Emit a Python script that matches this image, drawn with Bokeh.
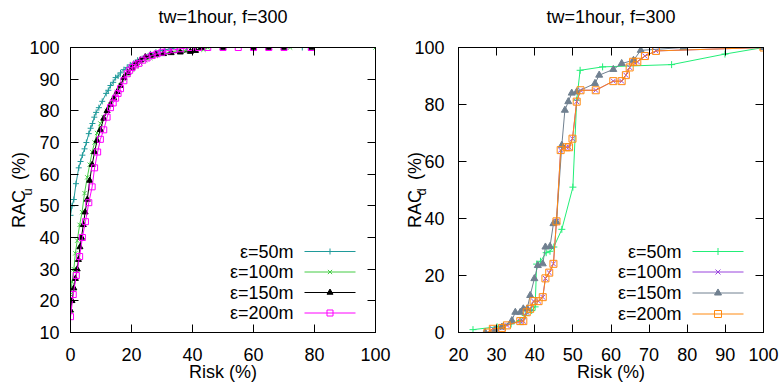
from bokeh.plotting import figure
from bokeh.models import Range1d, LinearAxis, FixedTicker
from bokeh.layouts import row
from bokeh.core.properties import value
from bokeh.embed import file_html
from bokeh.resources import INLINE

FONT = "Liberation Sans"

# ---------------- texts ----------------
title_text = "tw=1hour, f=300"
x_label_text = "Risk (%)"
y_main_text = "RAC\u00a0\u00a0(%)"     # gap left for the subscript
left_sub = "u\u00a0"
right_sub = "d\u00a0"
series_labels = ["ε=50m", "ε=100m", "ε=150m", "ε=200m"]

# ---------------- data: left panel (RAC_u vs Risk) ----------------
u50_x = [0, 0.5, 1.1, 1.8, 2.7, 3.3, 3.9, 4.6, 5.2, 6, 6.6, 7.2, 7.8, 8.4, 9.3, 10.4, 11.7, 12.4, 13.1, 14, 14.8,
         15.6, 16.4, 17.5, 18.6, 19.6, 20.7, 22, 23.5, 25, 26.2, 28, 29.5, 31, 33, 35, 38, 42, 50, 60, 65, 70, 76, 78]
u50_y = [47, 50, 52, 57, 62, 64, 66, 68, 70, 72.8, 74.5, 76, 78, 79.5, 81, 83, 85.5, 86.5, 88, 89, 90.5,
         91, 92, 93, 93.7, 94.5, 95, 96, 96.5, 97, 98, 98.5, 99, 99.3, 99.6, 100, 100, 100, 100, 100, 100, 100, 100, 100]

u100_x = [0, 0.5, 1.1, 1.6, 2.2, 3, 3.8, 4.6, 5.5, 6.3, 7.1, 7.9, 8.7, 9.8, 10.9, 12, 13.1, 14.2, 15.3, 16.4, 17.5,
          18.8, 20.2, 21.5, 22.9, 24.5, 26.2, 28, 30.5, 32.5, 34.9, 38, 41, 43.6, 45, 50, 60, 65, 70, 72, 100]
u100_y = [22, 26, 30, 35, 39, 44, 48, 54, 59, 63, 67, 70, 73, 76, 78, 80, 82, 84, 86, 88, 90,
          91.5, 93, 94, 95, 96, 96.7, 97.3, 98, 98.5, 99, 99, 99, 99.3, 100, 100, 100, 100, 100, 100, 100]

u150_x = [0, 0.5, 1.1, 1.6, 2.2, 2.6, 3.1, 3.6, 4.2, 4.8, 5.5, 6.3, 7.1, 7.9, 8.7, 9.8, 10.9, 12, 13.1, 14.2, 15.3,
          16.4, 17.5, 18.8, 20.2, 21.5, 22.9, 24.5, 26.2, 28, 30.5, 33, 36, 39.3, 41, 43, 50, 60, 65, 70, 79]
u150_y = [17, 20, 24, 27, 30, 33, 37, 40, 44, 48, 52, 58, 63, 67, 70.6, 74, 77.6, 80, 82, 84, 86,
          88, 90.5, 92, 93.7, 95, 96, 97, 97.5, 97.8, 98, 98.3, 98.5, 98.7, 99, 100, 100, 100, 100, 100, 100]

u200_x = [0, 0.9, 1.9, 3, 3.9, 4.9, 6, 7.1, 7.9, 8.9, 9.8, 10.9, 12, 13.1, 14, 14.8, 15.6, 16.4, 17.5, 18.6, 19.4,
          20.2, 21.3, 22.4, 23.7, 25.1, 26.8, 28.4, 30, 31.7, 34, 36, 39.3, 42, 45, 50, 55, 60, 65, 70, 79]
u200_y = [15, 22, 28, 34, 40, 45, 51, 56, 62, 67, 71, 74, 78, 81, 82.5, 84, 85.5, 87, 89.5, 91.7, 92.8,
          93.7, 94.5, 95, 96, 96.7, 97.5, 98, 98.5, 99, 99.3, 99.6, 100, 100, 100, 100, 100, 100, 100, 100, 100]

left_xticks = [0, 20, 40, 60, 80, 100]
left_yticks = [10, 20, 30, 40, 50, 60, 70, 80, 90, 100]

# ---------------- data: right panel (RAC_d vs Risk) ----------------
d50_x = [23.8, 30.1, 31.8, 33.8, 36.2, 37.5, 39.2, 40.1, 40.5, 41.5, 43, 44, 45, 47.1, 50, 51, 51.9, 57.8, 75.9, 89.9, 100]
d50_y = [1, 2, 2.5, 3, 4.2, 6, 7.7, 9, 24, 25, 28, 28.5, 30, 36.2, 51, 81.5, 92, 93.2, 94, 97.7, 100]

d150_x = [27, 29.6, 31.4, 34, 34.9, 36.2, 37, 38, 38.8, 39.9, 40.8, 42.1, 42.8, 44, 44.9, 45.7, 47.1, 47.9, 48.8,
          49.7, 51, 55.8, 56.9, 60.6, 62.8, 65.9, 67.8, 79, 100]
d150_y = [0, 0.7, 1.9, 4.2, 7.1, 7.1, 8.3, 8.3, 13, 18.9, 23.5, 24.1, 30, 30.2, 38.2, 38.8, 65.7, 78, 81,
          84, 84.4, 87.4, 90.3, 92.3, 94.4, 95.5, 99, 100, 100]

d200_x = [27.6, 29, 31.4, 32.7, 36.2, 37, 37.9, 38.8, 39.7, 41, 42.1, 42.8, 43.8, 44.9, 45.7, 46.8, 48.3, 49, 49.9,
          51, 52, 56, 60.6, 62.8, 63.9, 64.9, 65.8, 66.9, 68.9, 71.8, 100]
d200_y = [0, 1.3, 1.6, 2.5, 4, 4, 7.1, 8.3, 11, 11, 12.4, 19, 21, 24.1, 39, 64, 65, 65, 68,
          81, 85, 85, 88.2, 88.2, 90.3, 93, 95, 95, 97, 98.8, 100]
d100_x = list(d200_x)
d100_y = list(d200_y)

right_xticks = [20, 30, 40, 50, 60, 70, 80, 90, 100]
right_yticks = [0, 20, 40, 60, 80, 100]

# ---------------- styles ----------------
left_colors = ["#1f9a9a", "#44cc44", "#000000", "#ff00ff"]
right_colors = ["#22ee77", "#9944dd", "#708090", "#ff8a10"]
markers = ["cross", "x", "triangle", "square"]
marker_fill = [False, False, True, False]

H = 385
FT, FB = 47, 332  # frame top/bottom (page pixels)


def text_axis(text, size, standoff):
    """An axis without ticks, used only to carry a text next to the frame."""
    return LinearAxis(ticker=FixedTicker(ticks=[]), axis_line_color=None,
                      major_tick_line_color=None, minor_tick_line_color=None,
                      major_tick_in=0, major_tick_out=0, major_label_standoff=0,
                      major_label_text_font_size="1px", major_label_text_color=None,
                      axis_label=text, axis_label_text_font=FONT,
                      axis_label_text_font_size=f"{size}px", axis_label_text_font_style="normal",
                      axis_label_text_color="black", axis_label_standoff=standoff)


def make_fig(x_range, y_range, xticks, yticks, page_left, fl, fr, width, ystandoff, sub, sub_so, main_so):
    p = figure(width=width, height=H, output_backend="svg", toolbar_location=None,
               x_range=Range1d(*x_range), y_range=Range1d(*y_range),
               min_border_left=fl - page_left, min_border_right=page_left + width - fr,
               min_border_top=FT, min_border_bottom=H - FB)
    p.xgrid.visible = False
    p.ygrid.visible = False
    p.outline_line_color = "black"
    p.outline_line_width = 1
    p.outline_line_alpha = 1
    p.background_fill_color = "white"
    p.border_fill_color = "white"
    for ax, ticks in ((p.xaxis[0], xticks), (p.yaxis[0], yticks)):
        ax.ticker = FixedTicker(ticks=ticks)
        ax.major_tick_in = 8
        ax.major_tick_out = 0
        ax.minor_tick_line_color = None
        ax.axis_line_color = "black"
        ax.major_tick_line_color = "black"
        ax.major_label_text_font = FONT
        ax.major_label_text_font_size = "18px"
        ax.major_label_text_color = "black"
    p.xaxis[0].major_label_standoff = 15
    p.yaxis[0].major_label_standoff = ystandoff
    p.xaxis[0].axis_label = x_label_text
    p.xaxis[0].axis_label_text_font = FONT
    p.xaxis[0].axis_label_text_font_size = "18px"
    p.xaxis[0].axis_label_text_font_style = "normal"
    p.xaxis[0].axis_label_text_color = "black"
    p.xaxis[0].axis_label_standoff = -2
    # mirrored ticks on top (carrying the title) and right (no labels)
    top = LinearAxis(ticker=FixedTicker(ticks=xticks), major_tick_in=8, major_tick_out=0,
                     minor_tick_line_color=None, major_label_text_color=None,
                     major_label_text_font_size="1px", major_label_standoff=0,
                     axis_line_color="black",
                     axis_label=title_text, axis_label_text_font=FONT,
                     axis_label_text_font_size="18px", axis_label_text_font_style="normal",
                     axis_label_text_color="black", axis_label_standoff=21)
    right = LinearAxis(ticker=FixedTicker(ticks=yticks), major_tick_in=8, major_tick_out=0,
                       minor_tick_line_color=None, major_label_text_color=None,
                       major_label_text_font_size="1px", major_label_standoff=0,
                       axis_line_color="black")
    p.add_layout(top, "above")
    p.add_layout(right, "right")
    # y axis title: subscript (closer to frame) then main text
    p.add_layout(text_axis(sub, 13, sub_so), "left")
    p.add_layout(text_axis(y_main_text, 18, main_so), "left")
    return p


def conv(fl, fr, xr, yr):
    def fx(px):
        return xr[0] + (px - fl) / (fr - fl) * (xr[1] - xr[0])

    def fy(py):
        return yr[0] + (FB - py) / (FB - FT) * (yr[1] - yr[0])
    return fx, fy


def draw_series(p, xs, ys, color, marker, filled, size):
    p.line(xs, ys, line_color=color, line_width=1)
    p.scatter(xs, ys, marker=marker, size=size, line_color=color,
              fill_color=color if filled else None, line_width=1)


def draw_legend(p, fx, fy, colors, text_right, l0, l1, rows, size):
    for lab, c, m, f, ry in zip(series_labels, colors, markers, marker_fill, rows):
        p.text([fx(text_right)], [fy(ry)], text=[lab], text_align="right", text_baseline="middle",
               text_font=value(FONT), text_font_size="18px", text_color="black")
        p.line([fx(l0), fx(l1)], [fy(ry), fy(ry)], line_color=c, line_width=1)
        p.scatter([fx((l0 + l1) / 2)], [fy(ry)], marker=m, size=size, line_color=c,
                  fill_color=c if f else None, line_width=1)


# ---------------- left figure ----------------
L_FL, L_FR = 70, 375
lx, ly = (0, 100), (10, 100)
p1 = make_fig(lx, ly, left_xticks, left_yticks, 0, L_FL, L_FR, 391, 11, left_sub, -8, -12)
fx1, fy1 = conv(L_FL, L_FR, lx, ly)
for xs, ys, c, m, f in zip([u50_x, u100_x, u150_x, u200_x], [u50_y, u100_y, u150_y, u200_y],
                           left_colors, markers, marker_fill):
    draw_series(p1, xs, ys, c, m, f, 6)
draw_legend(p1, fx1, fy1, left_colors, 293, 304, 355, [251, 271.5, 292, 312.5], 6)

# ---------------- right figure ----------------
R_FL, R_FR = 458, 763
rx, ry = (20, 100), (0, 100)
p2 = make_fig(rx, ry, right_xticks, right_yticks, 391, R_FL, R_FR, 391, 14, right_sub, -17, -14)
fx2, fy2 = conv(R_FL, R_FR, rx, ry)
for xs, ys, c, m, f in zip([d50_x, d100_x, d150_x, d200_x], [d50_y, d100_y, d150_y, d200_y],
                           right_colors, markers, marker_fill):
    draw_series(p2, xs, ys, c, m, f, 7)
draw_legend(p2, fx2, fy2, right_colors, 681, 692, 743, [251, 271.5, 292.5, 313.5], 7)

layout = row(p1, p2)
open("out.html", "w").write(file_html(layout, INLINE))
